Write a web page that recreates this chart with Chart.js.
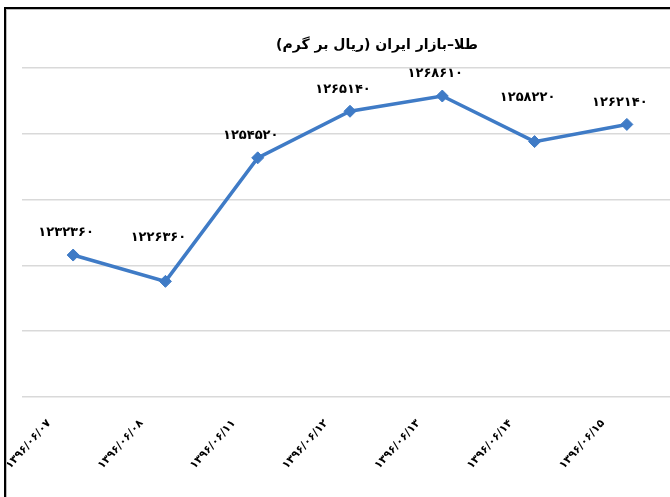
<!DOCTYPE html>
<html>
<head>
<meta charset="utf-8">
<script src="https://cdn.jsdelivr.net/npm/chart.js@4"></script>
<style>
  html, body { margin: 0; padding: 0; background: #fff; overflow: hidden; width: 670px; height: 497px; }
  #wrap { position: relative; width: 670px; height: 497px; overflow: hidden; }
  #frame { position: absolute; left: 4px; top: 7px; width: 700px; height: 520px;
           border-top: 2px solid #000; border-left: 2px solid #000;
           box-shadow: inset 1px 1px 0 #bbb; pointer-events: none; }
  canvas { position: absolute; left: 0; top: 0; }
</style>
</head>
<body>
<div id="wrap">
  <canvas id="c" width="680" height="497"></canvas>
  <div id="frame"></div>
</div>
<script>
const titleText = 'طلا–بازار ایران (ریال بر گرم)';
const categories = ['۱۳۹۶/۰۶/۰۷', '۱۳۹۶/۰۶/۰۸', '۱۳۹۶/۰۶/۱۱', '۱۳۹۶/۰۶/۱۲', '۱۳۹۶/۰۶/۱۳', '۱۳۹۶/۰۶/۱۴', '۱۳۹۶/۰۶/۱۵'];
const goldPrice = [1232360, 1226360, 1254520, 1265140, 1268610, 1258220, 1262140];
const yMin = 1200000;
const yMax = 1275000;
const yStep = 15000;

const FONT = '"DejaVu Sans", sans-serif';
const toFa = v => String(v).replace(/\d/g, d => '۰۱۲۳۴۵۶۷۸۹'[d]);

const titlePlugin = {
  id: 'faTitle',
  afterDraw(chart) {
    const ctx = chart.ctx;
    ctx.save();
    ctx.font = 'bold 14px ' + FONT;
    ctx.fillStyle = '#000';
    ctx.textAlign = 'center';
    ctx.textBaseline = 'middle';
    ctx.direction = 'rtl';
    ctx.fillText(titleText, 377, 45);
    ctx.restore();
  }
};

const labelPlugin = {
  id: 'valueLabels',
  afterDatasetsDraw(chart) {
    const ctx = chart.ctx;
    const meta = chart.getDatasetMeta(0);
    const data = chart.data.datasets[0].data;
    ctx.save();
    ctx.font = 'bold 13px ' + FONT;
    ctx.fillStyle = '#000';
    ctx.textAlign = 'center';
    ctx.textBaseline = 'middle';
    meta.data.forEach((pt, i) => {
      const prev = data[i - 1], next = data[i + 1];
      const localMin = prev !== undefined && next !== undefined && data[i] < prev && data[i] < next;
      const off = localMin ? 44 : 22;
      ctx.fillText(toFa(data[i]), pt.x - 7, pt.y - off);
    });
    ctx.restore();
  }
};

new Chart(document.getElementById('c'), {
  type: 'line',
  data: {
    labels: categories,
    datasets: [{
      data: goldPrice,
      borderColor: '#3f7bc6',
      backgroundColor: '#3f7bc6',
      borderWidth: 3.5,
      pointStyle: 'rectRot',
      pointRadius: 6,
      pointHoverRadius: 6,
      pointBackgroundColor: '#3f7bc6',
      pointBorderColor: '#3f7bc6',
      pointBorderWidth: 1,
      tension: 0,
      fill: false
    }]
  },
  options: {
    responsive: false,
    devicePixelRatio: 1,
    animation: false,
    layout: { padding: { left: 22, right: 6, top: 68, bottom: 0 } },
    plugins: {
      legend: { display: false },
      title: { display: false },
      tooltip: { enabled: false }
    },
    scales: {
      x: {
        offset: true,
        grid: { display: false },
        border: { display: false },
        ticks: {
          maxRotation: 48,
          minRotation: 48,
          autoSkip: false,
          padding: 12,
          labelOffset: -24,
          color: '#000',
          font: { family: FONT, size: 11, weight: 'bold' }
        },
        afterFit(axis) { axis.height = 100; }
      },
      y: {
        min: yMin,
        max: yMax,
        border: { display: false },
        grid: { color: '#d9d9d9', lineWidth: 1.5, drawTicks: true, tickLength: 5 },
        ticks: { display: false, stepSize: yStep, padding: 0 },
        afterFit(axis) { axis.width = 5; }
      }
    }
  },
  plugins: [titlePlugin, labelPlugin]
});
</script>
</body>
</html>
